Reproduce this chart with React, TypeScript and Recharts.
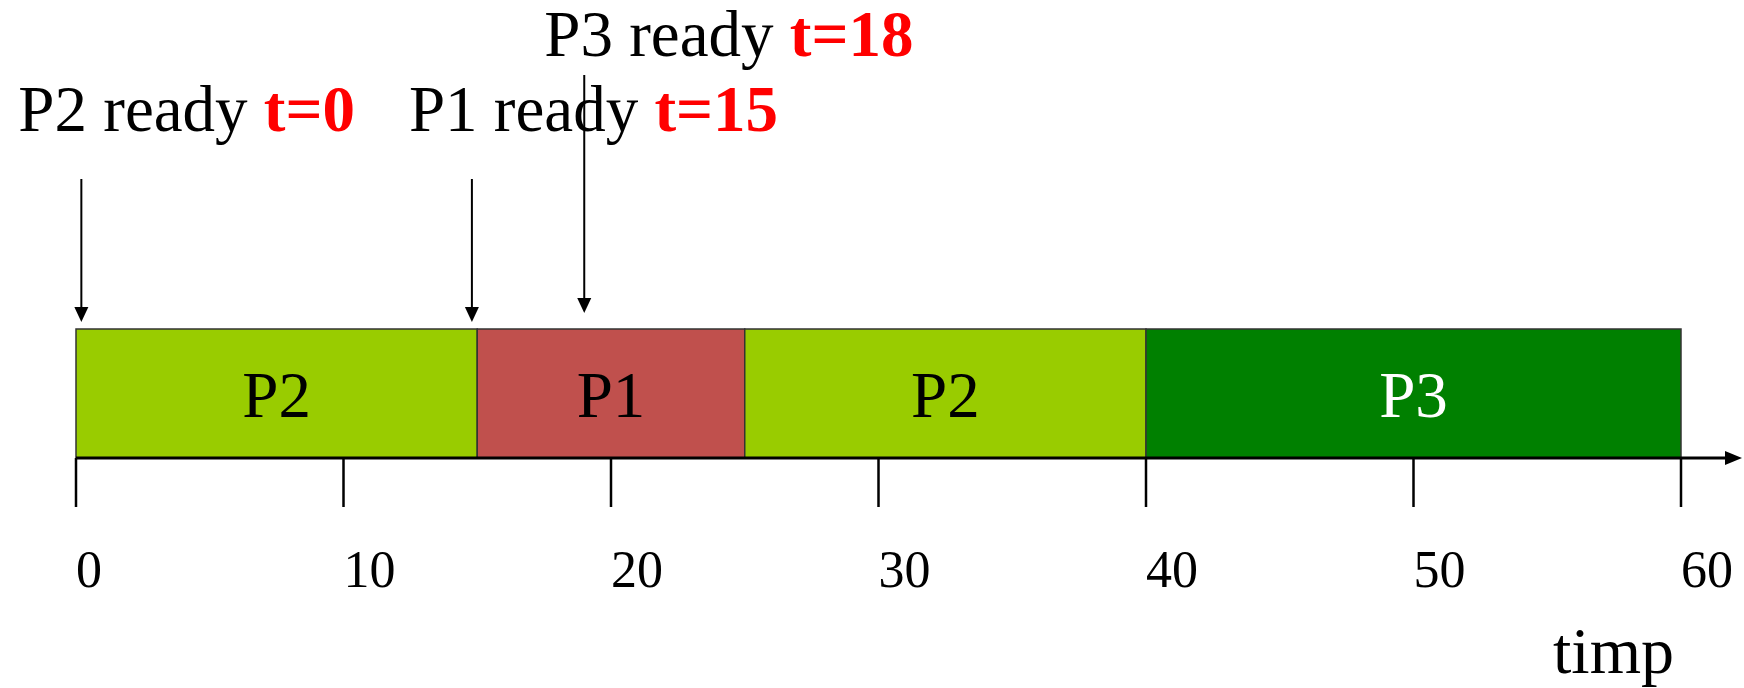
import React from 'react';
import { ComposedChart, Bar, XAxis, YAxis, LabelList, ReferenceLine } from 'recharts';

// CPU schedule, left to right
const segmentProcs = ['P2', 'P1', 'P2', 'P3'];
const segmentDurations = [15, 10, 15, 20];

// ready events: the label time and where the arrow was drawn
const readyProcs = ['P2', 'P1', 'P3'];
const readyTimes = [0, 15, 18];
const arrowTimes = [0.2, 14.8, 19];

const xTicks = [0, 10, 20, 30, 40, 50, 60];
const axisTitle = 'timp';

const segmentColors = ['#99cc00', '#c0504d', '#99cc00', '#008000'];
const labelColors = ['#000000', '#000000', '#000000', '#ffffff'];

const FONT = '"Liberation Serif", "Times New Roman", serif';

const row: Record<string, any> = { name: 'cpu' };
segmentDurations.forEach((d, i) => {
  row[`s${i}`] = d;
});
const data = [row];

// text offset from its arrow, arrow start and gap above the bar
const readyLayout = [
  { dx: -63, baseline: 131, top: 179, gap: 7 },
  { dx: -63, baseline: 131, top: 179, gap: 7 },
  { dx: -40, baseline: 56, top: 75, gap: 16 },
];

const readyArrow = (i: number) => (props: any) => {
  const x = props.x1;
  const barTop = Math.min(props.y1, props.y2);
  const l = readyLayout[i];
  const tip = barTop - l.gap;
  return (
    <g>
      <text x={x + l.dx} y={l.baseline} fontFamily={FONT} fontSize={65} fill="#000">
        {`${readyProcs[i]} ready `}
        <tspan fill="#ff0000" fontWeight="bold">{`t=${readyTimes[i]}`}</tspan>
      </text>
      <line x1={x} y1={l.top} x2={x} y2={tip - 12} stroke="#000" strokeWidth={2} />
      <polygon points={`${x - 7},${tip - 15} ${x + 7},${tip - 15} ${x},${tip}`} fill="#000" />
    </g>
  );
};

// extends the time axis past 60 with an arrow head, plus its title
const axisArrow = (props: any) => {
  const x = props.x1;
  const y = Math.max(props.y1, props.y2);
  return (
    <g>
      <line x1={x} y1={y} x2={x + 46} y2={y} stroke="#000" strokeWidth={3} />
      <polygon points={`${x + 44},${y - 7} ${x + 61},${y} ${x + 44},${y + 7}`} fill="#000" />
      <text x={x - 128} y={y + 215} fontFamily={FONT} fontSize={66} fill="#000">
        {axisTitle}
      </text>
    </g>
  );
};

const TimeTick = (props: any) => {
  const { x, y, payload } = props;
  return (
    <text x={x} y={y + 80} fontFamily={FONT} fontSize={52} fill="#000" textAnchor="start">
      {payload.value}
    </text>
  );
};

const App = () => {
  return (
    <div style={{ position: 'absolute', left: 0, top: 0, width: 1744, height: 688, background: '#fff' }}>
      <ComposedChart
        width={1744}
        height={688}
        data={data}
        layout="vertical"
        margin={{ top: 329, right: 63, bottom: 0, left: 76 }}
        barCategoryGap={0}
      >
        <YAxis type="category" dataKey="name" hide />
        <XAxis
          type="number"
          domain={[0, 60]}
          ticks={xTicks}
          interval={0}
          height={230}
          tickSize={49}
          tickMargin={0}
          axisLine={{ stroke: '#000', strokeWidth: 3 }}
          tickLine={{ stroke: '#000', strokeWidth: 2.5 }}
          tick={<TimeTick />}
        />
        {segmentDurations.map((_, i) => (
          <Bar
            key={i}
            dataKey={`s${i}`}
            stackId="cpu"
            fill={segmentColors[i]}
            stroke="#333"
            strokeWidth={1.5}
            isAnimationActive={false}
          >
            <LabelList
              position="center"
              formatter={() => segmentProcs[i]}
              fill={labelColors[i]}
              fontSize={65}
              fontFamily={FONT}
            />
          </Bar>
        ))}
        {arrowTimes.map((t, i) => (
          <ReferenceLine key={`r${i}`} x={t} ifOverflow="visible" shape={readyArrow(i)} />
        ))}
        <ReferenceLine x={60} ifOverflow="visible" shape={axisArrow} />
      </ComposedChart>
    </div>
  );
};

export default App;
